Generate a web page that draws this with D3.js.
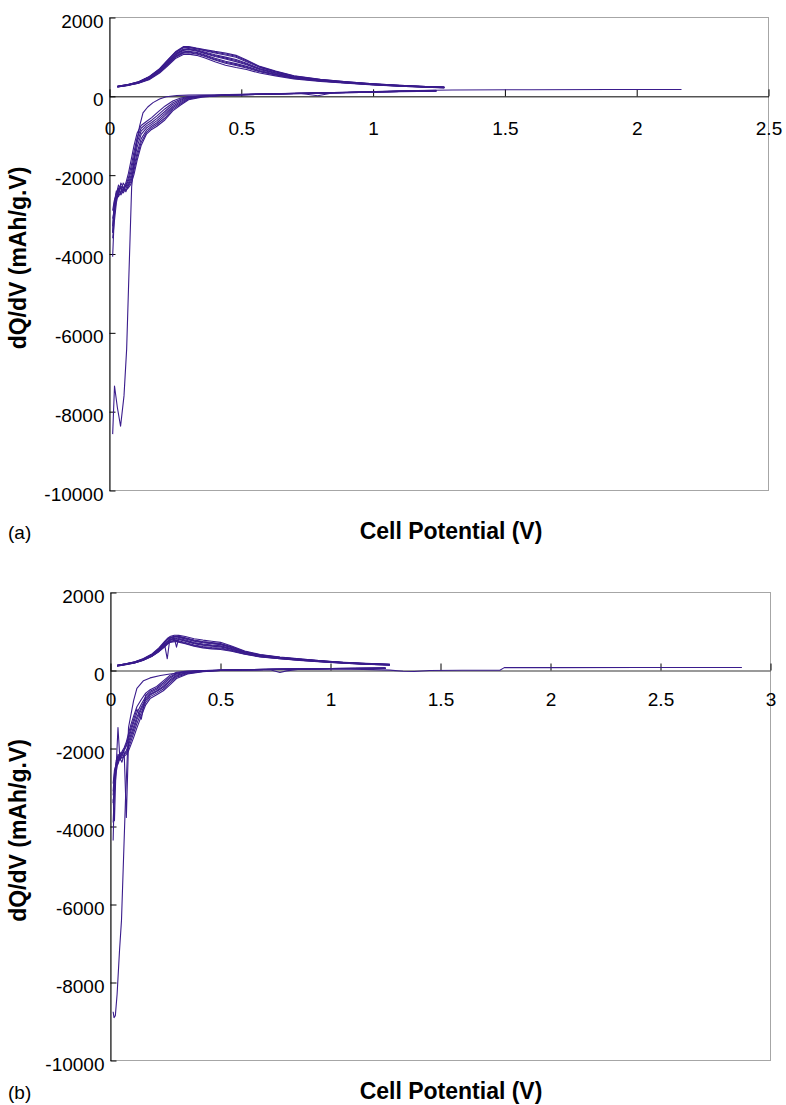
<!DOCTYPE html>
<html>
<head>
<meta charset="utf-8">
<script src="https://cdn.jsdelivr.net/npm/d3@7"></script>
<style>
  body { margin: 0; background: #fff; }
  svg text { font-family: Arial, "Liberation Sans", sans-serif; fill: #000; }
</style>
</head>
<body>
<svg id="chart" width="786" height="1105"></svg>
<script>
// ---- data (V, mAh/g.V) ----
const yTicks = [2000, 0, -2000, -4000, -6000, -8000, -10000]
const xTicksA = [0, 0.5, 1, 1.5, 2, 2.5]
const xTicksB = [0, 0.5, 1, 1.5, 2, 2.5, 3]

// (a) charge, later cycles
const chgVa = [0.03, 0.07, 0.11, 0.15, 0.19, 0.22, 0.25, 0.28, 0.30, 0.33, 0.36, 0.40, 0.44, 0.48, 0.52, 0.57, 0.63, 0.70, 0.80, 0.90, 1.00, 1.10, 1.20, 1.27]
const chgA = [
  [255, 300, 370, 500, 700, 920, 1130, 1260, 1265, 1225, 1190, 1140, 1100, 1040, 920, 760, 640, 520, 430, 370, 320, 280, 250, 235],
  [253, 298, 366, 494, 690, 905, 1115, 1245, 1252, 1215, 1175, 1120, 1075, 1015, 900, 748, 630, 512, 425, 366, 317, 278, 248, 233],
  [252, 296, 362, 488, 680, 895, 1100, 1230, 1240, 1205, 1160, 1100, 1050, 990, 880, 735, 620, 505, 420, 362, 314, 276, 247, 232],
  [249, 291, 355, 475, 662, 868, 1072, 1195, 1210, 1180, 1125, 1055, 995, 935, 840, 705, 600, 492, 412, 356, 309, 272, 244, 229],
  [247, 289, 352, 468, 653, 856, 1060, 1180, 1195, 1165, 1108, 1032, 970, 908, 820, 692, 590, 485, 408, 353, 306, 270, 242, 227],
  [246, 287, 349, 462, 645, 845, 1048, 1165, 1180, 1150, 1090, 1010, 945, 880, 800, 680, 580, 478, 404, 350, 304, 268, 241, 226],
  [243, 284, 343, 450, 628, 820, 1022, 1130, 1145, 1115, 1055, 965, 890, 830, 760, 655, 560, 465, 396, 344, 299, 264, 238, 223],
  [241, 281, 340, 442, 618, 808, 1005, 1112, 1125, 1095, 1035, 942, 865, 805, 740, 638, 550, 458, 392, 340, 296, 261, 236, 221],
  [239, 279, 336, 435, 608, 795, 990, 1095, 1105, 1075, 1015, 920, 840, 780, 720, 622, 540, 452, 388, 337, 294, 259, 234, 219],
  [235, 275, 330, 420, 590, 770, 960, 1060, 1070, 1040, 980, 880, 790, 730, 680, 590, 520, 440, 380, 330, 290, 255, 230, 215]
]

// (a) discharge, later cycles
const disVa = [1.24, 1.10, 1.00, 0.90, 0.80, 0.70, 0.60, 0.50, 0.42, 0.35, 0.30, 0.27, 0.24, 0.21, 0.18, 0.16, 0.14, 0.12, 0.105, 0.093, 0.082, 0.072, 0.062, 0.052, 0.043, 0.034, 0.026, 0.018, 0.012]
const disA = [
  [150, 132, 118, 104, 90, 76, 62, 45, 20, -20, -85, -220, -370, -600, -760, -840, -960, -1250, -1620, -1980, -2220, -2320, -2380, -2330, -2280, -2400, -2600, -2900, -3100],
  [146, 129, 115, 101, 88, 74, 60, 44, 22, -12, -68, -190, -330, -550, -715, -800, -915, -1170, -1520, -1880, -2150, -2280, -2250, -2400, -2500, -2350, -2450, -2750, -3460],
  [143, 127, 113, 99, 86, 72, 59, 43, 23, -5, -52, -160, -290, -490, -670, -760, -865, -1080, -1420, -1790, -2080, -2250, -2420, -2300, -2200, -2500, -2600, -3050, -4070],
  [140, 125, 111, 97, 84, 71, 58, 42, 24, 2, -38, -130, -250, -440, -615, -712, -805, -965, -1280, -1660, -2000, -2200, -2340, -2450, -2350, -2250, -2480, -2650, -2900],
  [137, 123, 109, 96, 83, 70, 57, 41, 25, 5, -26, -100, -205, -385, -560, -665, -750, -880, -1160, -1530, -1900, -2130, -2300, -2200, -2420, -2550, -2400, -2700, -3300],
  [134, 121, 107, 94, 82, 69, 56, 40, 26, 8, -15, -75, -165, -320, -495, -605, -695, -810, -1050, -1400, -1780, -2060, -2260, -2380, -2300, -2450, -2700, -3200, -3600],
  [130, 118, 104, 92, 80, 67, 54, 38, 28, 12, -5, -45, -120, -250, -420, -540, -640, -740, -930, -1250, -1620, -1950, -2200, -2350, -2450, -2320, -2550, -2800, -3460]
]

// (a) first cycle
const firstVa = [2.17, 1.9, 1.6, 1.3, 1.1, 0.95, 0.85, 0.79, 0.72, 0.6, 0.5, 0.4, 0.3, 0.255, 0.215, 0.19, 0.165, 0.145, 0.127, 0.114, 0.103, 0.095, 0.084, 0.072, 0.065, 0.055, 0.042, 0.03, 0.019, 0.012]
const firstA = [175, 172, 168, 160, 140, 110, 90, 15, 80, 60, 50, 40, 30, 20, -10, -70, -160, -270, -420, -760, -1170, -1530, -2300, -4890, -6420, -7600, -8370, -7900, -7350, -8570]

// (b) charge, later cycles
const chgVb = [0.03, 0.07, 0.11, 0.15, 0.19, 0.22, 0.245, 0.258, 0.27, 0.29, 0.30, 0.31, 0.34, 0.38, 0.42, 0.46, 0.50, 0.55, 0.61, 0.68, 0.77, 0.86, 0.96, 1.06, 1.16, 1.27]
const chgB = [
  [135, 175, 225, 305, 430, 580, 740, 820, 870, 905, 905, 900, 870, 815, 780, 752, 722, 630, 500, 410, 345, 298, 250, 212, 182, 160],
  [132, 171, 219, 297, 418, 562, 715, 795, 845, 880, 882, 875, 840, 782, 745, 718, 692, 608, 488, 400, 338, 292, 246, 207, 178, 157],
  [130, 169, 216, 293, 412, 553, 702, 782, 832, 868, 870, 862, 825, 766, 728, 702, 678, 597, 481, 395, 334, 289, 244, 205, 176, 155],
  [129, 167, 214, 290, 406, 546, 690, 300, 820, 855, 858, 850, 810, 750, 712, 686, 664, 586, 475, 390, 331, 286, 242, 203, 174, 154],
  [126, 163, 209, 283, 395, 530, 668, 745, 795, 830, 600, 822, 780, 718, 680, 655, 636, 565, 462, 380, 324, 280, 238, 199, 171, 151],
  [124, 161, 206, 280, 390, 522, 656, 734, 782, 816, 818, 809, 765, 702, 664, 638, 621, 553, 455, 375, 320, 277, 235, 197, 169, 149],
  [122, 159, 204, 276, 384, 515, 645, 722, 770, 802, 806, 796, 750, 686, 648, 622, 606, 542, 448, 370, 317, 274, 233, 195, 167, 147],
  [118, 155, 199, 270, 376, 498, 622, 698, 744, 772, 776, 765, 718, 654, 615, 590, 576, 520, 434, 360, 309, 267, 228, 191, 163, 143],
  [115, 152, 196, 266, 372, 490, 611, 685, 730, 755, 758, 746, 700, 637, 597, 572, 558, 507, 426, 354, 304, 263, 225, 189, 161, 140],
  [112, 150, 194, 262, 368, 482, 600, 672, 716, 738, 740, 728, 684, 620, 580, 555, 540, 494, 418, 348, 300, 260, 222, 187, 159, 138]
]

// (b) discharge, later cycles
const disVb = [1.25, 1.10, 1.00, 0.90, 0.80, 0.70, 0.60, 0.50, 0.42, 0.35, 0.30, 0.27, 0.24, 0.21, 0.18, 0.16, 0.14, 0.12, 0.105, 0.093, 0.082, 0.072, 0.062, 0.052, 0.043, 0.034, 0.026, 0.018, 0.012]
const disB = [
  [65, 58, 52, 44, 37, 29, 18, 2, -30, -90, -205, -370, -520, -620, -720, -880, -1170, -1470, -1720, -1900, -2060, -2150, -2200, -2250, -2180, -2350, -2600, -3100, -3900],
  [62, 56, 51, 43, 36, 28, 18, 3, -24, -75, -170, -325, -475, -580, -670, -815, -1080, -1360, -1610, -1810, -1990, -2100, -2160, -2200, -2300, -1460, -2450, -2900, -3400],
  [60, 55, 50, 42, 35, 28, 17, 4, -18, -60, -140, -280, -430, -540, -630, -760, -1000, -1260, -1520, -1720, -1910, -2050, -2150, -2350, -2250, -2400, -2300, -3850, -3300],
  [58, 53, 49, 41, 34, 27, 17, 5, -14, -50, -118, -245, -400, -518, -605, -722, -945, -1190, -1440, -1640, -1840, -3770, -2080, -2150, -2200, -2320, -2420, -2750, -3200],
  [56, 52, 47, 40, 33, 26, 16, 6, -10, -38, -90, -200, -355, -480, -565, -670, -865, -1090, -1340, -1550, -1760, -1940, -2050, -2120, -2250, -2200, -2500, -3000, -4360],
  [54, 50, 46, 39, 32, 25, 15, 7, -6, -26, -68, -165, -315, -450, -535, -630, -1250, -990, -1260, -1470, -1690, -1890, -2020, -2180, -2100, -2300, -2350, -2650, -3100],
  [50, 47, 44, 37, 30, 24, 14, 8, -2, -16, -45, -125, -265, -410, -495, -580, -745, -930, -1170, -1380, -1610, -1830, -1980, -2080, -2200, -2150, -2400, -2550, -2900]
]

// (b) first cycle
const firstVb = [2.87, 2.4, 2.0, 1.79, 1.77, 1.6, 1.45, 1.38, 1.33, 1.27, 1.15, 1.0, 0.86, 0.8, 0.77, 0.73, 0.6, 0.5, 0.4, 0.33, 0.27, 0.227, 0.18, 0.15, 0.12, 0.105, 0.082, 0.068, 0.05, 0.041, 0.03, 0.022, 0.016, 0.012]
const firstB = [77, 76, 75, 74, 8, 5, 0, -25, -20, 10, 30, 40, 35, -10, -50, 15, 15, 10, -5, -50, -90, -130, -190, -260, -460, -770, -1460, -3330, -6400, -7180, -8300, -8850, -8900, -8750]

const lineColor = '#3a1c8c'
const svg = d3.select('#chart')

function drawPanel (cfg) {
  const x = d3.scaleLinear().domain([0, cfg.xMax]).range([cfg.left, cfg.right])
  const y = d3.scaleLinear().domain([-10000, 2000]).range([cfg.bottom, cfg.top])
  const g = svg.append('g').attr('class', 'panel')

  // plot area frame
  g.append('rect')
    .attr('x', cfg.left)
    .attr('y', cfg.top)
    .attr('width', cfg.right - cfg.left)
    .attr('height', cfg.bottom - cfg.top)
    .attr('fill', 'none')
    .attr('stroke', '#a6a6a6')
    .attr('stroke-width', 1)

  // x axis at y = 0
  const xAxis = g.append('g')
    .attr('transform', 'translate(0,' + y(0) + ')')
    .call(d3.axisBottom(x)
      .tickValues(cfg.xTicks)
      .tickFormat(d => String(d))
      .tickSize(-7)
      .tickSizeOuter(0)
      .tickPadding(cfg.xPad))
  xAxis.select('.domain').attr('stroke', cfg.zeroColor).attr('stroke-width', cfg.zeroWidth)
  xAxis.selectAll('.tick line').attr('stroke', '#000')
  xAxis.selectAll('text').attr('font-size', 19).attr('fill', '#000')

  // y axis
  const yAxis = g.append('g')
    .attr('transform', 'translate(' + cfg.left + ',0)')
    .call(d3.axisLeft(y)
      .tickValues(yTicks)
      .tickFormat(d => String(d))
      .tickSize(-6)
      .tickSizeOuter(0)
      .tickPadding(6))
  yAxis.select('.domain').attr('stroke', '#000')
  yAxis.selectAll('.tick line').attr('stroke', '#000')
  yAxis.selectAll('text').attr('font-size', 19).attr('dy', '0.5em').attr('fill', '#000')

  // curves
  const line = d3.line().x(d => x(d[0])).y(d => y(d[1]))
  const curves = []
  cfg.charge.forEach(vals => curves.push(d3.zip(cfg.chargeV, vals)))
  cfg.discharge.forEach(vals => curves.push(d3.zip(cfg.dischargeV, vals)))
  curves.push(d3.zip(cfg.firstV, cfg.first))

  g.append('g').selectAll('path')
    .data(curves)
    .join('path')
    .attr('d', line)
    .attr('fill', 'none')
    .attr('stroke', lineColor)
    .attr('stroke-width', 1.1)
    .attr('stroke-linejoin', 'round')

  // titles
  g.append('text')
    .attr('x', 8)
    .attr('y', cfg.titleY)
    .attr('font-size', 19)
    .text(cfg.tag)

  g.append('text')
    .attr('x', 451)
    .attr('y', cfg.titleY)
    .attr('text-anchor', 'middle')
    .attr('font-size', 23)
    .attr('font-weight', 'bold')
    .text('Cell Potential (V)')

  g.append('text')
    .attr('transform', 'translate(26,' + ((cfg.top + cfg.bottom) / 2 + 4) + ') rotate(-90)')
    .attr('text-anchor', 'middle')
    .attr('font-size', 23)
    .attr('font-weight', 'bold')
    .text('dQ/dV (mAh/g.V)')
}

drawPanel({
  tag: '(a)',
  left: 109.5, right: 768.5, top: 17.5, bottom: 490.5,
  xMax: 2.5, xTicks: xTicksA, xPad: 25,
  zeroColor: '#000', zeroWidth: 1,
  titleY: 539,
  chargeV: chgVa, charge: chgA,
  dischargeV: disVa, discharge: disA,
  firstV: firstVa, first: firstA
})

drawPanel({
  tag: '(b)',
  left: 110.5, right: 770.5, top: 592.5, bottom: 1060.5,
  xMax: 3, xTicks: xTicksB, xPad: 22,
  zeroColor: '#777', zeroWidth: 1.6,
  titleY: 1099,
  chargeV: chgVb, charge: chgB,
  dischargeV: disVb, discharge: disB,
  firstV: firstVb, first: firstB
})
</script>
</body>
</html>
